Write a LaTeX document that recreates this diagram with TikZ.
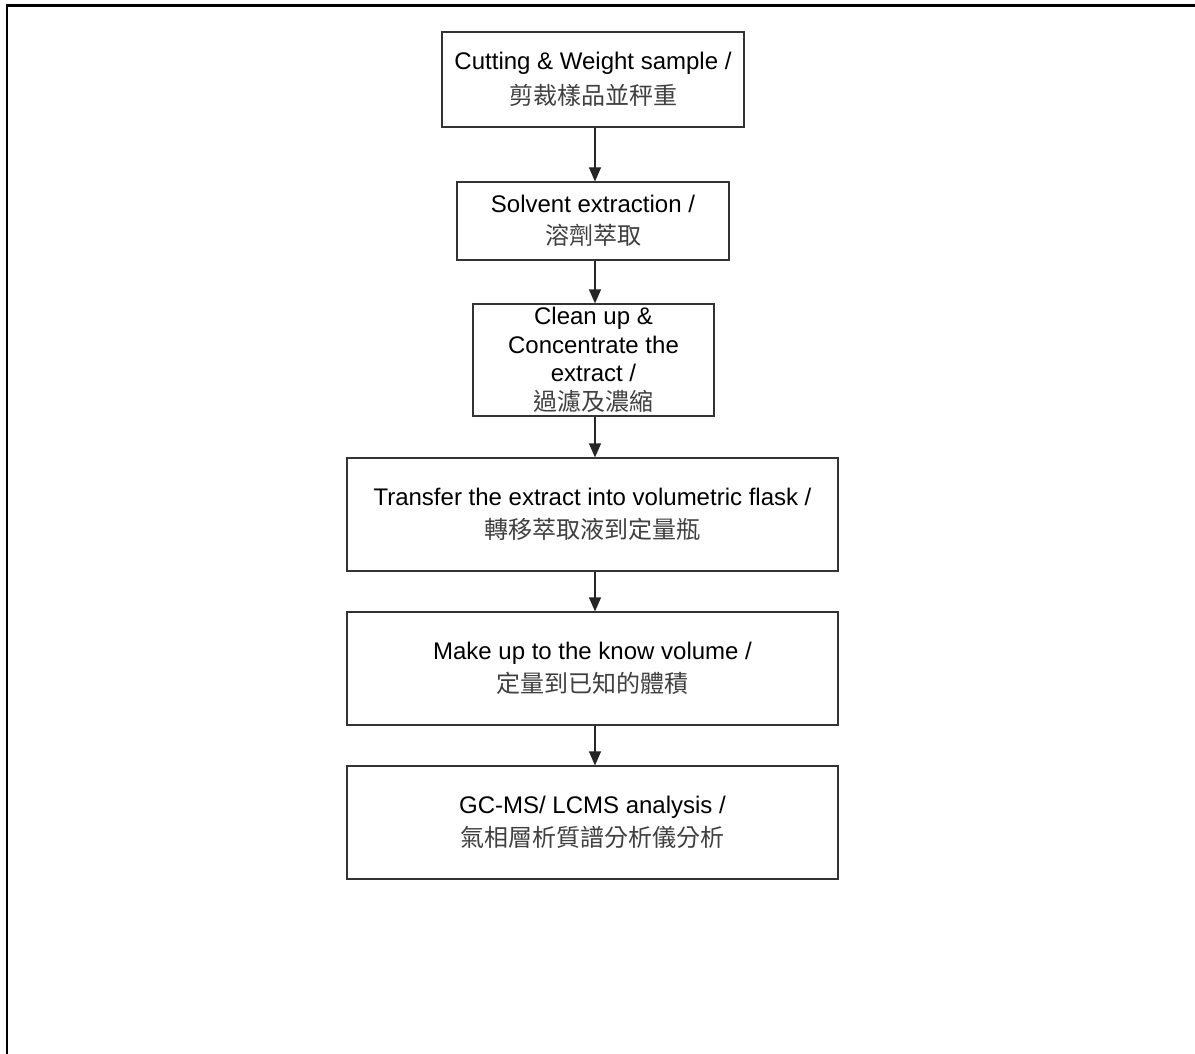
\documentclass[tikz,border=0pt]{standalone}
\usepackage{fontspec}
\setmainfont{Liberation Sans}
\newfontfamily\cjk{Noto Sans CJK TC}
\usetikzlibrary{arrows.meta}
\begin{document}
\begin{tikzpicture}[x=1pt,y=-1pt,
  stepbox/.style={draw=black!80,line width=1.2pt,inner sep=0pt,align=center,
    font=\fontsize{24}{28.5}\selectfont},
  arr/.style={draw=black!85,line width=1.2pt,-{Triangle[length=14pt,width=12pt]}}]
\useasboundingbox (0,0) rectangle (1195,1054);
\fill[white] (0,0) rectangle (1195,1054);
\draw[line width=3pt] (6,6) -- (1195,6);
\draw[line width=2pt] (7,5) -- (7,1054);
\node[stepbox,minimum width=302pt,minimum height=95pt] (b1) at (593,79.5)
  {Cutting \& Weight sample /\\[6pt]{\cjk\color{black!75}剪裁樣品並秤重}};
\node[stepbox,minimum width=272pt,minimum height=78pt] (b2) at (593,221)
  {Solvent extraction /\\[4pt]{\cjk\color{black!75}溶劑萃取}};
\node[stepbox,minimum width=241pt,minimum height=112pt] (b3) at (593.5,360)
  {Clean up \&\\Concentrate the\\extract /\\{\cjk\color{black!75}過濾及濃縮}};
\node[stepbox,minimum width=491pt,minimum height=113pt] (b4) at (592.5,514.5)
  {Transfer the extract into volumetric flask /\\[4pt]{\cjk\color{black!75}轉移萃取液到定量瓶}};
\node[stepbox,minimum width=491pt,minimum height=113pt] (b5) at (592.5,668.5)
  {Make up to the know volume /\\[4pt]{\cjk\color{black!75}定量到已知的體積}};
\node[stepbox,minimum width=491pt,minimum height=113pt] (b6) at (592.5,822.5)
  {GC-MS/ LCMS analysis /\\[4pt]{\cjk\color{black!75}氣相層析質譜分析儀分析}};
\coordinate (ax) at (595,0);
\draw[arr] (b1.south -| ax) -- (b2.north -| ax);
\draw[arr] (b2.south -| ax) -- (b3.north -| ax);
\draw[arr] (b3.south -| ax) -- (b4.north -| ax);
\draw[arr] (b4.south -| ax) -- (b5.north -| ax);
\draw[arr] (b5.south -| ax) -- (b6.north -| ax);
\end{tikzpicture}
\end{document}
